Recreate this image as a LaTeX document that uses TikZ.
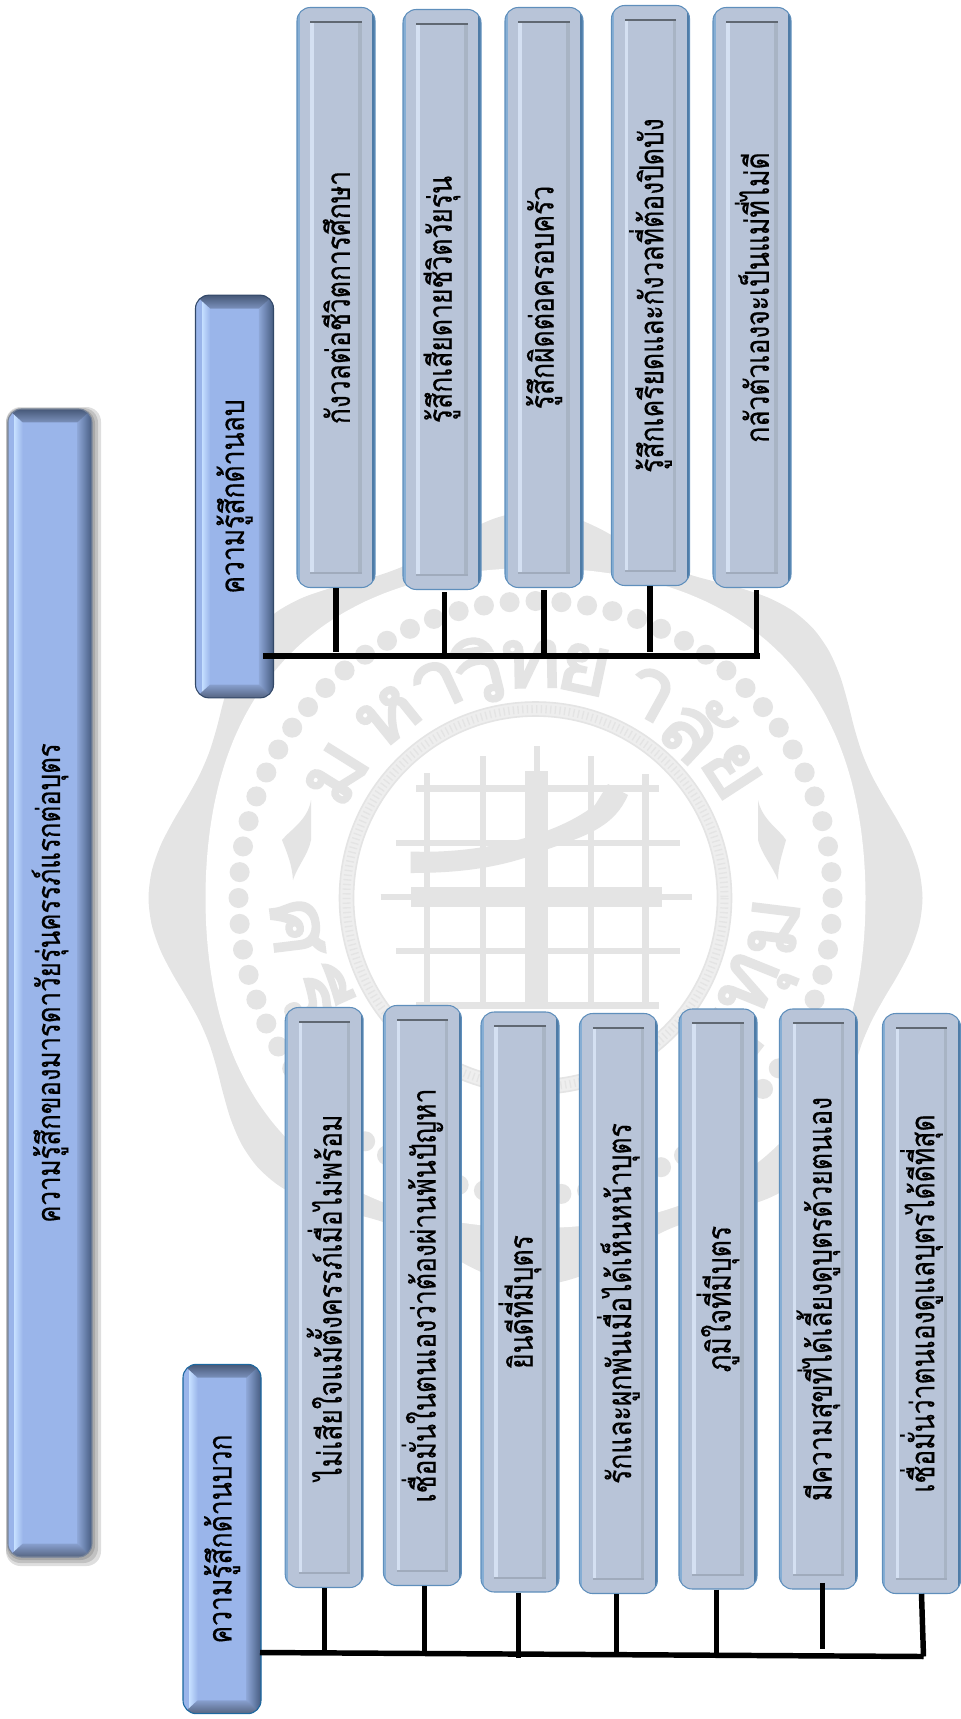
\documentclass[tikz,border=0pt]{standalone}
\usepackage{fontspec}
\newfontfamily\thaifont[Script=Thai,FakeStretch=0.8,FakeBold=0.4]{Loma}
\newfontfamily\sealfont[Script=Thai,FakeStretch=1.1,FakeBold=3]{Loma}

\definecolor{feelfill}{HTML}{B8C4D8}
\definecolor{feeledge}{HTML}{5F8FBC}
\definecolor{feelleft}{HTML}{86AED4}
\definecolor{feelright}{HTML}{4E7BA6}
\definecolor{feellight}{HTML}{D4E0F2}
\definecolor{feeldark}{HTML}{A8B4C4}
\definecolor{feeltop}{HTML}{606872}
\definecolor{feelfoot}{HTML}{A0ABBC}
\definecolor{headfill}{HTML}{9AB5EA}
\definecolor{headlight}{HTML}{C4DEFF}
\definecolor{headdark}{HTML}{465C80}
\definecolor{headtop}{HTML}{465878}
\definecolor{mainedge}{HTML}{788498}
\definecolor{negedge}{HTML}{324868}
\definecolor{posedge}{HTML}{1C68A0}
\definecolor{sealgrey}{HTML}{E4E4E4}
\definecolor{sealrope}{HTML}{EEEEEE}

\newcommand{\feelbevel}{%
  \path (path picture bounding box.north west) coordinate (pnw)
        (path picture bounding box.south east) coordinate (pse);
  \begin{scope}[sharp corners]
    \fill [feelleft] (pnw) rectangle ([xshift=2pt]pse -| pnw);
    \fill [feelright] (pse |- pnw) rectangle ([xshift=-2pt]pse);
    \fill [feellight] ([shift={(10pt,-11pt)}]pnw) rectangle ([xshift=12.5pt,yshift=11pt]pse -| pnw);
    \fill [feeldark] ([shift={(-12.5pt,-11pt)}]pse |- pnw) rectangle ([shift={(-10pt,11pt)}]pse);
    \fill [feeltop] ([shift={(10pt,-10pt)}]pnw) rectangle ([shift={(-10pt,-11.6pt)}]pse |- pnw);
    \fill [feelfoot] ([shift={(10pt,11.5pt)}]pse -| pnw) rectangle ([shift={(-10pt,10pt)}]pse);
  \end{scope}}
\newcommand{\headbevel}{%
  \path (path picture bounding box.north west) coordinate (pnw)
        (path picture bounding box.south east) coordinate (pse);
  \begin{scope}[sharp corners]
    \shade [left color=headfill!92!black, right color=headdark] ([xshift=-11pt]pse |- pnw) rectangle (pse);
    \shade [left color=headlight, right color=headfill] ([xshift=5pt]pnw) rectangle ([xshift=11pt]pse -| pnw);
    \shade [top color=headtop, bottom color=headfill!80!black] (pnw) -- (pse |- pnw) -- ([shift={(-11pt,-10pt)}]pse |- pnw) -- ([shift={(11pt,-10pt)}]pnw) -- cycle;
    \shade [top color=headfill!88!black, bottom color=headfill!55!black] (pse -| pnw) -- (pse) -- ([shift={(-11pt,10pt)}]pse) -- ([shift={(11pt,10pt)}]pse -| pnw) -- cycle;
  \end{scope}}

\tikzset{
  feelbox/.style={rounded corners=10pt, draw=feeledge, line width=0.8pt, fill=feelfill, minimum width=58.5pt, minimum height=435pt, inner sep=0pt, font=\thaifont\fontsize{24.8}{27}\selectfont, path picture={\feelbevel}},
  headbox/.style={rounded corners=10pt, draw=#1, line width=0.8pt, fill=headfill, minimum width=58.5pt, inner sep=0pt, font=\thaifont\fontsize{24.8}{27}\selectfont, path picture={\headbevel}},
  wire/.style={line width=4.1pt, color=black},
  sealshape/.style={fill=sealgrey},
  sealbar/.style={line width=5pt, color=sealgrey},
  sealtext/.style={font=\sealfont\fontsize{62}{62}\selectfont, text=sealgrey, inner sep=0pt},
  mainshade/.style={fill=black, opacity=0.13, rounded corners=11pt}
}

\begin{document}
\begin{tikzpicture}[x=0.75pt,y=0.75pt,yscale=-1]
\useasboundingbox (0,0) rectangle (960,1719);

%Seal: outer and inner outline
\fill [sealshape] plot [smooth cycle, domain=0:356, samples=90] ({535.5+(372+15*cos(8*\x))*cos(\x)},{898+(372+15*cos(8*\x))*sin(\x)});
\fill [white] plot [smooth cycle, domain=0:356, samples=90] ({535.5+(338-8*cos(4*\x))*cos(\x)},{898+(338-8*cos(4*\x))*sin(\x)});
%Seal: ring of dots
\foreach \a in {0,5,...,355} \fill [sealshape] ({535.5+297*cos(\a)},{898+297*sin(\a)}) circle (10);
%Seal: letters
\foreach \c/\a [count=\i] in {ม/-58,ห/-39,า/-25,วิ/-14,ท/-1,ย/12,า/29,ลั/43,ย/57}
  \node (sealtop\i) [sealtext, rotate=-\a] at ({535.5+234*sin(\a)},{898-234*cos(\a)}) {\c};
\foreach \c/\a [count=\i] in {ศ/-83,รี/-66,ป/52,ทุ/68,ม/83}
  \node (sealbot\i) [sealtext, rotate=\a] at ({535.5+240*sin(\a)},{898+240*cos(\a)}) {\c};
%Seal: side ornaments
\fill [sealshape] (311,800) .. controls (308,820) and (290,830) .. (282,840) .. controls (288,855) and (292,865) .. (293,880) .. controls (298,865) and (308,855) .. (311,840) -- cycle;
\fill [sealshape] (758,800) .. controls (762,820) and (780,830) .. (786,840) .. controls (782,855) and (778,865) .. (778,880) .. controls (772,865) and (762,855) .. (758,840) -- cycle;
%Seal: rope ring
\draw [sealrope, line width=11pt] (535.5,898) circle (189);
\draw [sealgrey, line width=1.2pt] (535.5,898) circle (196);
\draw [sealgrey, line width=1.2pt] (535.5,898) circle (182);
\draw [sealgrey, line width=6pt, dash pattern=on 1pt off 2.5pt] (535.5,898) circle (189);
%Seal: scaffold
\fill [sealshape] (525,771) rectangle (548,1008);
\fill [sealshape] (534,746) rectangle (540,771);
\fill [sealshape] (410.5,887) rectangle (662,907);
\draw [sealbar] (483,756) -- (483,1009);
\draw [sealbar] (591,756) -- (591,1009);
\draw [sealbar] (427,773) -- (427,1009);
\draw [sealbar] (645.5,774) -- (645.5,1009);
\draw [sealbar] (416,788.5) -- (659,788.5);
\draw [sealbar] (396,843) -- (680,843);
\draw [sealbar] (380.5,897) -- (692,897);
\draw [sealbar] (396,951) -- (680,951);
\draw [sealbar] (416,1005.5) -- (659,1005.5);
\fill [sealshape] (410.5,851.5) .. controls (470,854) and (550,840) .. (595,805) -- (608,784) -- (628,795) .. controls (615,825) and (590,835) .. (548,849) .. controls (500,870) and (450,873) .. (410.5,873) -- cycle;

%Shape: main title and its shade
\fill [mainshade] (6,407) rectangle (101,1566);
\fill [mainshade] (6,408) rectangle (98,1563);
\fill [mainshade] (7,409) rectangle (95,1560);
\node (maintitle) [headbox=mainedge, minimum width=63pt, minimum height=861pt, font=\thaifont\fontsize{24.2}{27}\selectfont] at (50,983) {\rotatebox{90}{ความรู้สึกของมารดาวัยรุ่นครรภ์แรกต่อบุตร}};

%Shape: negative side
\node (neghead) [headbox=negedge, minimum height=302pt] at (234.5,496.5) {\rotatebox{90}{ความรู้สึกด้านลบ}};
\node (neg1) [feelbox] at (336,297.5) {\rotatebox{90}{กังวลต่อชีวิตการศึกษา}};
\node (neg2) [feelbox] at (442,299.5) {\rotatebox{90}{รู้สึกเสียดายชีวิตวัยรุ่น}};
\node (neg3) [feelbox] at (544,297.5) {\rotatebox{90}{รู้สึกผิดต่อครอบครัว}};
\node (neg4) [feelbox] at (650.5,295.5) {\rotatebox{90}{รู้สึกเครียดและกังวลที่ต้องปิดบัง}};
\node (neg5) [feelbox] at (752,297.5) {\rotatebox{90}{กลัวตัวเองจะเป็นแม่ที่ไม่ดี}};

%Shape: positive side
\node (poshead) [headbox=posedge, minimum height=262pt] at (222,1539) {\rotatebox{90}{ความรู้สึกด้านบวก}};
\node (pos1) [feelbox] at (324.2,1297.5) {\rotatebox{90}{ไม่เสียใจแม้ตั้งครรภ์เมื่อไม่พร้อม}};
\node (pos2) [feelbox] at (422.4,1295.5) {\rotatebox{90}{เชื่อมั่นในตนเองว่าต้องผ่านพ้นปัญหา}};
\node (pos3) [feelbox] at (520,1302) {\rotatebox{90}{ยินดีที่มีบุตร}};
\node (pos4) [feelbox] at (618.4,1303.5) {\rotatebox{90}{รักและผูกพันเมื่อได้เห็นหน้าบุตร}};
\node (pos5) [feelbox] at (718,1299) {\rotatebox{90}{ภูมิใจที่มีบุตร}};
\node (pos6) [feelbox] at (818.3,1299) {\rotatebox{90}{มีความสุขที่ได้เลี้ยงดูบุตรด้วยตนเอง}};
\node (pos7) [feelbox] at (921.5,1303.5) {\rotatebox{90}{เชื่อมั่นว่าตนเองดูแลบุตรได้ดีที่สุด}};

%Straight Lines: negative side
\coordinate (negjoin) at (263,656);
\coordinate (negend) at (760,656);
\coordinate (negfoot1) at (336,652);
\coordinate (negfoot2) at (444.6,654);
\coordinate (negfoot3) at (544,654);
\coordinate (negfoot4) at (650,652);
\coordinate (negfoot5) at (756.5,656);
\draw [wire] (negjoin) -- (negend);
\draw [wire] (negfoot1 |- neg1.south) -- (negfoot1);
\draw [wire, shorten <=1.5pt] (negfoot2 |- neg2.south) -- (negfoot2);
\draw [wire, shorten <=1.5pt] (negfoot3 |- neg3.south) -- (negfoot3);
\draw [wire] (negfoot4 |- neg4.south) -- (negfoot4);
\draw [wire, shorten <=1.5pt] (negfoot5 |- neg5.south) -- (negfoot5);

%Straight Lines: positive side
\coordinate (posjoin) at (260,1652.5);
\coordinate (posend) at (923.5,1656.5);
\coordinate (posfoot1) at (324.7,1652);
\coordinate (posfoot2) at (424.4,1652);
\coordinate (posfoot3) at (518.6,1658);
\coordinate (posfoot4) at (616.4,1653);
\coordinate (posfoot5) at (716.6,1653);
\coordinate (posfoot6) at (822.4,1649);
\draw [wire] (posjoin) -- (posend);
\draw [wire] (posfoot1 |- pos1.south) -- (posfoot1);
\draw [wire] (posfoot2 |- pos2.south) -- (posfoot2);
\draw [wire] (posfoot3 |- pos3.south) -- (posfoot3);
\draw [wire] (posfoot4 |- pos4.south) -- (posfoot4);
\draw [wire] (posfoot5 |- pos5.south) -- (posfoot5);
\draw [wire, shorten <=-5pt] (posfoot6 |- pos6.south) -- (posfoot6);
\draw [wire] (pos7.south) -- (posend);

\end{tikzpicture}
\end{document}
